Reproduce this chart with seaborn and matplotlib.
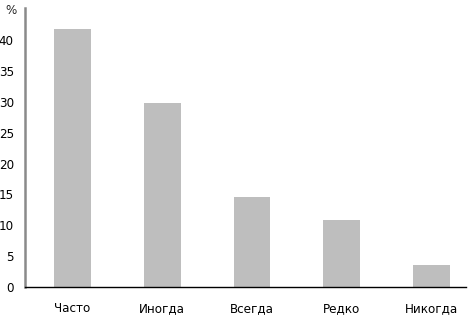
import matplotlib
matplotlib.use("Agg")
import matplotlib.pyplot as plt
import seaborn as sns
import pandas as pd

categories = ["Часто", "Иногда", "Всегда", "Редко", "Никогда"]
values = [41.8, 29.8, 14.6, 10.85, 3.55]
yticks = [0, 5, 10, 15, 20, 25, 30, 35, 40]

sns.set_style("white")
plt.rcParams['font.family'] = ['DejaVu Sans']
plt.rcParams['font.stretch'] = 'condensed'

df = pd.DataFrame({"cat": categories, "val": values})

fig = plt.figure(figsize=(4.69, 3.17), dpi=100)
ax = fig.add_axes([25/469, 30/317, 441/469, 279/317])
sns.barplot(data=df, x="cat", y="val", color="#BEBEBE", width=0.41,
            saturation=1, ax=ax, edgecolor="none")

ax.set_xlim(-0.53, 4.385)
ax.set_ylim(0, 45.2)
ax.set_yticks(yticks)
ax.set_yticklabels([str(t) for t in yticks])
ax.set_xlabel("")
ax.set_ylabel("")
for s in ["top", "right"]:
    ax.spines[s].set_visible(False)
ax.spines["left"].set_color("#8a8a8a")
ax.spines["left"].set_linewidth(1.8)
ax.spines["bottom"].set_color("black")
ax.spines["bottom"].set_linewidth(1.0)
ax.tick_params(axis="y", length=0, pad=8, labelsize=9.5, labelcolor="black")
ax.tick_params(axis="x", length=0, pad=11, labelsize=9.5, labelcolor="black")
for lab in ax.get_xticklabels() + ax.get_yticklabels():
    lab.set_fontstretch('condensed')
ax.text(-0.032, 0.99, "%", transform=ax.transAxes, ha="center", va="center",
        fontsize=9.5, fontstretch='condensed')

fig.savefig("out.png", dpi=100)
